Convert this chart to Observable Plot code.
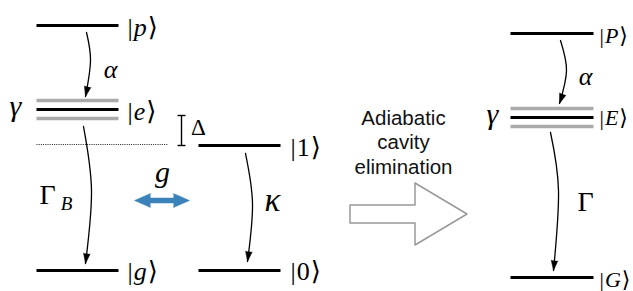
<!DOCTYPE html>
<html><head><meta charset="utf-8">
<script src="https://cdn.jsdelivr.net/npm/d3@7"></script>
<script src="https://cdn.jsdelivr.net/npm/@observablehq/plot@0.6"></script>
<style>body{margin:0;background:#fff} #chart svg{display:block;background:#fff}</style>
</head><body><div id="chart"></div>
<script>
// Energy levels (diagram units = pixels of the 633x291 frame)
const blackLevels = [
  {x1: 36, x2: 118, y: 25},   // |p>
  {x1: 36, x2: 118, y: 109},  // |e>
  {x1: 36, x2: 118, y: 270},  // |g>
  {x1: 198, x2: 280, y: 145}, // |1>
  {x1: 198, x2: 280, y: 270}, // |0>
  {x1: 510, x2: 593, y: 33},  // |P>
  {x1: 510, x2: 593, y: 117}, // |E>
  {x1: 510, x2: 593, y: 277}  // |G>
];
const grayLevels = [
  {x1: 36, x2: 118, y: 100}, {x1: 36, x2: 118, y: 118},
  {x1: 510, x2: 593, y: 108}, {x1: 510, x2: 593, y: 126}
];
const detuningLine = [{x1: 36, x2: 167, y: 144}];
const deltaBracket = [
  {x1: 181, y1: 115, x2: 181, y2: 145},
  {x1: 177, y1: 115, x2: 185, y2: 115},
  {x1: 177, y1: 145, x2: 185, y2: 145}
];
// ket labels
const kets = [
  {s: "p", x: 127, y: 27, size: 26, italic: true},
  {s: "e", x: 127, y: 111, size: 26, italic: true},
  {s: "g", x: 127, y: 271, size: 26, italic: true},
  {s: "1", x: 290, y: 147, size: 26, italic: false},
  {s: "0", x: 290, y: 271, size: 26, italic: false},
  {s: "P", x: 599, y: 35, size: 22, italic: true},
  {s: "E", x: 599, y: 117, size: 22, italic: true},
  {s: "G", x: 599, y: 279, size: 22, italic: true}
];
// rate symbols
const italicSymbols = [
  {t: "α", x: 110, y: 69, size: 26},
  {t: "γ", x: 15, y: 106, size: 30},
  {t: "B", x: 66, y: 203, size: 19},
  {t: "g", x: 162, y: 172, size: 30},
  {t: "κ", x: 272, y: 200, size: 33},
  {t: "α", x: 585, y: 76, size: 26},
  {t: "γ", x: 492, y: 114, size: 30}
];
const uprightSymbols = [
  {t: "Γ", x: 47, y: 195, size: 28},
  {t: "Δ", x: 198, y: 127, size: 23},
  {t: "Γ", x: 585, y: 202, size: 28}
];
// curved decay arrows (start, bulge, tip)
const decayArrows = [
  {id: "alpha", x: 86, y: 32}, {id: "alpha", x: 90, y: 60}, {id: "alpha", x: 85, y: 96},
  {id: "gammaB", x: 83, y: 126}, {id: "gammaB", x: 91, y: 190}, {id: "gammaB", x: 85, y: 263},
  {id: "kappa", x: 245, y: 153}, {id: "kappa", x: 252, y: 203}, {id: "kappa", x: 247, y: 261},
  {id: "alpha2", x: 560, y: 40}, {id: "alpha2", x: 566, y: 70}, {id: "alpha2", x: 559, y: 103},
  {id: "Gamma", x: 550, y: 132}, {id: "Gamma", x: 558, y: 190}, {id: "Gamma", x: 553, y: 270}
];
// coupling double arrow g
const couplingShaft = [{x1: 147, x2: 176, y: 200}];
const couplingHeads = [{x: 134, y: 200, rotate: 270}, {x: 189, y: 200, rotate: 90}];
// hollow elimination arrow outline
const bigArrow = [
  {x: 350, y1: 205, y2: 223}, {x: 415, y1: 205, y2: 223},
  {x: 415, y1: 183, y2: 245}, {x: 467, y1: 214, y2: 214}
];
const caption = [{t: "Adiabatic\ncavity\nelimination", x: 403, y: 141}];

// ---- derived: ket parts measured with the font ----
const serif = "'Liberation Serif', 'DejaVu Serif', serif";
const ctx = document.createElement("canvas").getContext("2d");
function w(txt, size, style) { ctx.font = `${style} ${size}px ${serif}`; return ctx.measureText(txt).width; }
const ketParts = [];
for (const k of kets) {
  const bw = w("|", k.size, "normal");
  const lw = w(k.s, k.size, k.italic ? "italic" : "normal");
  ketParts.push({t: "|", x: k.x, y: k.y, size: k.size, italic: false});
  ketParts.push({t: k.s, x: k.x + bw + 1, y: k.y, size: k.size, italic: k.italic});
  ketParts.push({t: "⟩", x: k.x + bw + lw + 2, y: k.y, size: k.size, italic: false});
}
// arrow heads from last segment of each curve
const heads = [];
for (const [id, pts] of d3.group(decayArrows, d => d.id)) {
  const a = pts[pts.length - 2], b = pts[pts.length - 1];
  const ang = Math.atan((b.x - a.x) / (b.y - a.y)) * 180 / Math.PI;
  heads.push({x: b.x, y: b.y, rotate: 180 - 1.6 * ang});
}

const chart = Plot.plot({
  width: 633, height: 291,
  margin: 0,
  x: {domain: [0, 633], range: [0, 633], axis: null},
  y: {domain: [0, 291], range: [0, 291], axis: null},
  style: {background: "#fff"},
  marks: [
    Plot.link(grayLevels, {x1: "x1", x2: "x2", y1: "y", y2: "y", stroke: "#aaaaaa", strokeWidth: 3.3}),
    Plot.link(blackLevels, {x1: "x1", x2: "x2", y1: "y", y2: "y", stroke: "#000", strokeWidth: 3.2}),
    Plot.link(detuningLine, {x1: "x1", x2: "x2", y1: "y", y2: "y", stroke: "#222", strokeWidth: 1, strokeDasharray: "1,1.2"}),
    Plot.link(deltaBracket, {x1: "x1", x2: "x2", y1: "y1", y2: "y2", stroke: "#000", strokeWidth: 1.4}),
    Plot.line(decayArrows, {x: "x", y: "y", z: "id", curve: "natural", stroke: "#000", strokeWidth: 1.3}),
    Plot.vector(heads, {x: "x", y: "y", rotate: "rotate", length: 10, r: 3.3, anchor: "end", shape: "spike", fill: "#000", stroke: "#000", strokeWidth: 0.5}),
    Plot.link(couplingShaft, {x1: "x1", x2: "x2", y1: "y", y2: "y", stroke: "#3b82b8", strokeWidth: 5.5}),
    Plot.vector(couplingHeads, {x: "x", y: "y", rotate: "rotate", length: 16, r: 7, anchor: "end", shape: "spike", fill: "#3b82b8", stroke: "#3b82b8", strokeWidth: 0.5}),
    Plot.areaY(bigArrow, {x: "x", y1: "y1", y2: "y2", fill: "#fff", stroke: "#999", strokeWidth: 1.5}),
    Plot.text(ketParts.filter(d => !d.italic), {x: "x", y: "y", text: "t", fontSize: "size", textAnchor: "start", fontFamily: serif, fill: "#000"}),
    Plot.text(ketParts.filter(d => d.italic), {x: "x", y: "y", text: "t", fontSize: "size", textAnchor: "start", fontFamily: serif, fontStyle: "italic", fill: "#000"}),
    Plot.text(italicSymbols, {x: "x", y: "y", text: "t", fontSize: "size", fontFamily: serif, fontStyle: "italic", fill: "#000"}),
    Plot.text(uprightSymbols, {x: "x", y: "y", text: "t", fontSize: "size", fontFamily: serif, fill: "#000"}),
    Plot.text(caption, {x: "x", y: "y", text: "t", fontSize: 20.5, lineHeight: 1.2, fontFamily: "'Liberation Sans', Arial, sans-serif", fill: "#111"})
  ]
});
document.getElementById("chart").appendChild(chart);
</script>
</body></html>
